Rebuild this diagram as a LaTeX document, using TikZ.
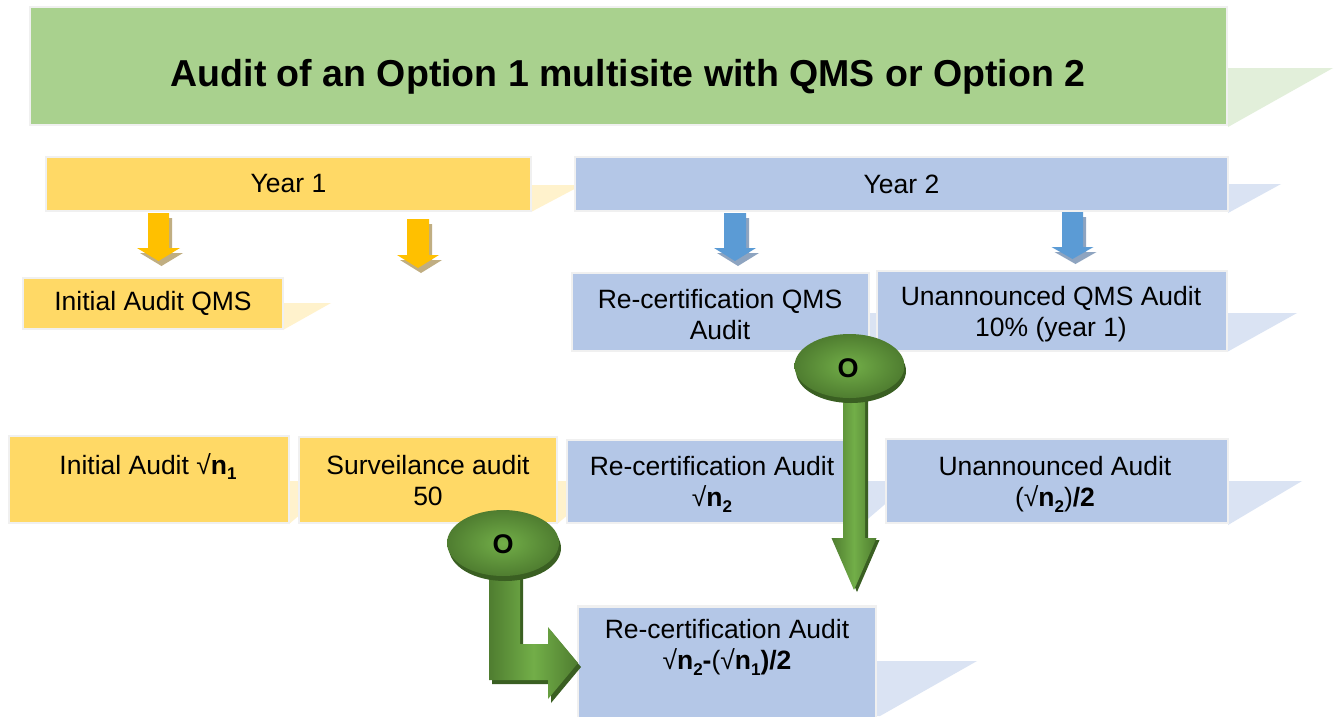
\documentclass[tikz,border=0pt]{standalone}
\usepackage{fontspec}
\setmainfont{Liberation Sans}
\usetikzlibrary{shapes.geometric}

\definecolor{titlegreen}{HTML}{A9D18E}
\definecolor{titleflap}{HTML}{E2EFDA}
\definecolor{gold}{HTML}{FFD966}
\definecolor{goldflap}{HTML}{FFF2CC}
\definecolor{steel}{HTML}{B4C7E7}
\definecolor{steelflap}{HTML}{DAE3F3}
\definecolor{edge}{HTML}{F0F0F0}
\definecolor{amber}{HTML}{FFC000}
\definecolor{ambershade}{HTML}{C0AE82}
\definecolor{sky}{HTML}{5B9BD5}
\definecolor{skyshade}{HTML}{8EA4C0}
\definecolor{leaf}{HTML}{72AE48}
\definecolor{leafdark}{HTML}{4F7D30}
\definecolor{leafdeep}{HTML}{3A5F22}

% subscript digit
\newcommand{\sbd}[1]{\raisebox{-0.22em}{\fontsize{17}{17}\selectfont #1}}
% block arrow pointing down: centre x, top, head top, tip, shaft half width, head half width
\newcommand{\blockdown}[6]{({#1-#5},#2) -- ({#1+#5},#2) -- ({#1+#5},#3) -- ({#1+#6},#3)
  -- (#1,#4) -- ({#1-#6},#3) -- ({#1-#5},#3) -- cycle}

\tikzset{
  card/.style={draw=edge, line width=2.5pt, inner sep=0pt, align=center,
    font=\fontsize{26.5}{31}\selectfont},
  ybox/.style={card, fill=gold},
  bbox/.style={card, fill=steel},
  caption/.style={align=center, inner sep=0pt, font=\fontsize{26.5}{31}\selectfont},
  bubble/.style={ellipse, inner sep=0pt, shading=radial, inner color=leaf,
    outer color=leafdark},
  greenarrow/.style={left color=leafdark, right color=leafdark, middle color=leaf},
}

\begin{document}
\begin{tikzpicture}[x=1pt,y=-1pt]
\useasboundingbox (0,0) rectangle (1341,716);
\fill[white] (0,0) rectangle (1341,716);

% reflected flaps behind the boxes
\fill[titleflap] (1227,68) -- (1333,68) -- (1228,127) -- cycle;
\fill[goldflap] (531,185) -- (582,185) -- (531,212) -- cycle;
\fill[steelflap] (1228,184) -- (1281,184) -- (1228,213) -- cycle;
\fill[goldflap] (283,303) -- (331,303) -- (283,330) -- cycle;
\fill[steelflap] (869,313) -- (920,313) -- (869,351) -- cycle;
\fill[steelflap] (1227,313) -- (1297,313) -- (1227,352) -- cycle;
\fill[goldflap] (289,481) -- (340,481) -- (289,524) -- cycle;
\fill[goldflap] (557,481) -- (608,481) -- (557,524) -- cycle;
\fill[steelflap] (862,481) -- (912,481) -- (862,524) -- cycle;
\fill[steelflap] (1228,481) -- (1302,481) -- (1228,525) -- cycle;
\fill[steelflap] (876,661) -- (977,661) -- (880,716) -- (876,716) -- cycle;

% title
\node[card, fill=titlegreen, minimum width=1197, minimum height=118] (title) at (628.5,66) {};
\node[anchor=base, font=\fontsize{37.5}{40}\selectfont\bfseries] (titletext) at (628,86)
  {Audit of an Option 1 multisite with QMS or Option 2};

% year headers
\node[ybox, minimum width=485, minimum height=54] (year1) at (288.5,184) {Year 1};
\node[bbox, minimum width=653, minimum height=54] (year2) at (901.5,184) {Year 2};

% QMS audits
\node[ybox, minimum width=260, minimum height=51] (iaq) at (153,303.5) {Initial Audit QMS};
\node[bbox, minimum width=297, minimum height=78] (rcq) at (720.5,312) {};
\node[caption] (rcqtext) at (720,315) {Re-certification QMS\\Audit};
\node[bbox, minimum width=350, minimum height=80] (uaq) at (1052,311) {};
\node[caption] (uaqtext) at (1051,314) {Unannounced QMS Audit\\10\% (year 1)};

% site sample audits
\node[ybox, minimum width=280, minimum height=87] (ia) at (149,479.5) {};
\node[caption, anchor=base] (iatext) at (148,474) {Initial Audit √\textbf{n\sbd{1}}};
\node[ybox, minimum width=258, minimum height=86] (sa) at (428,480) {};
\node[caption] (satext) at (428,481) {Surveilance audit\\50};
\node[bbox, minimum width=295, minimum height=83] (rca) at (714.5,481.5) {};
\node[caption] (rcatext) at (712,484) {Re-certification Audit\\√\textbf{n\sbd{2}}};
\node[bbox, minimum width=342, minimum height=84] (ua) at (1057,481) {};
\node[caption] (uatext) at (1055,484) {Unannounced Audit\\(√\textbf{n\sbd{2}})\textbf{/2}};
\node[bbox, minimum width=298, minimum height=125, anchor=north] (rcf) at (727,605) {};
\node[caption, anchor=north] (rcftext) at (727,619)
  {Re-certification Audit\\√\textbf{n\sbd{2}-}(√\textbf{n\sbd{1})/2}};

% arrows from the year headers
\fill[ambershade] [shift={(3,5)}] \blockdown{158.5}{213}{248}{261}{10.5}{21.5};
\fill[amber] \blockdown{158.5}{213}{248}{261}{10.5}{21.5};
\fill[ambershade] [shift={(3,5)}] \blockdown{418}{219}{255}{268}{11}{21};
\fill[amber] \blockdown{418}{219}{255}{268}{11}{21};
\fill[skyshade] [shift={(3,5)}] \blockdown{735}{213}{248}{261}{11}{21};
\fill[sky] \blockdown{735}{213}{248}{261}{11}{21};
\fill[skyshade] [shift={(3,5)}] \blockdown{1072.5}{212}{247}{259}{10.5}{21};
\fill[sky] \blockdown{1072.5}{212}{247}{259}{10.5}{21};

% option arrow from the QMS re-certification
\fill[leafdeep] [shift={(3,2)}] \blockdown{854}{398}{538}{590}{11}{22.5};
\shade[greenarrow] \blockdown{854}{398}{538}{590}{11}{22.5};

% option arrow from the surveillance audit
\fill[leafdeep] [shift={(3,4)}] (489,575) -- (520,575) -- (520,644) -- (548,644) -- (548,627)
  -- (578,663) -- (548,699) -- (548,680) -- (489,680) -- cycle;
\shade[greenarrow] (489,575) -- (520,575) -- (520,644) -- (548,644) -- (548,627)
  -- (578,663) -- (548,699) -- (548,680) -- (489,680) -- cycle;

% option bubbles
\fill[leafdeep] (851,371) ellipse [x radius=55, y radius=32];
\node[bubble, minimum width=110, minimum height=64] (opt1) at (849.5,366) {};
\node[font=\fontsize{27}{27}\selectfont\bfseries] (opt1text) at (848,368) {O};
\fill[leafdeep] (505,548) ellipse [x radius=56, y radius=33];
\node[bubble, minimum width=112, minimum height=66] (opt2) at (503,543) {};
\node[font=\fontsize{27}{27}\selectfont\bfseries] (opt2text) at (503,544) {O};
\end{tikzpicture}
\end{document}
